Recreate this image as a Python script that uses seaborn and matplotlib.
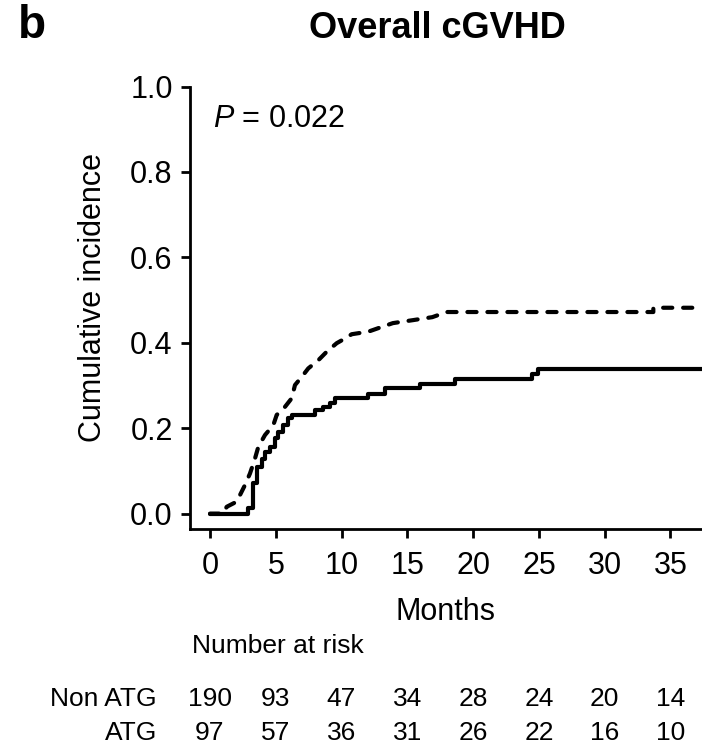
import numpy as np
import pandas as pd
import matplotlib
matplotlib.use("Agg")
import matplotlib.pyplot as plt
import matplotlib.transforms as mtransforms
import seaborn as sns

# ---------------- data ----------------
# Non ATG (dashed): dense small steps that read as a smooth curve -> vertices
non_atg_time = [0, 1.0, 1.27, 2.03, 2.66, 3.04, 3.42, 3.67, 4.18, 4.81, 5.07, 5.70, 6.21, 6.46,
                6.97, 7.47, 8.23, 8.87, 9.63, 10.26, 10.77, 12.03, 13.05, 13.9, 15.43,
                16.9, 18.0, 33.7, 33.7, 38.0]
non_atg_ci = [0, 0, 0.016, 0.028, 0.067, 0.094, 0.129, 0.156, 0.184, 0.207, 0.231, 0.250, 0.270,
              0.301, 0.320, 0.340, 0.359, 0.379, 0.399, 0.410, 0.420, 0.426, 0.437, 0.446,
              0.453, 0.460, 0.472, 0.472, 0.482, 0.482]

# ATG (solid): step function
atg_time = [0, 2.91, 3.29, 3.55, 3.93, 4.18, 4.56, 4.94, 5.19, 5.57, 5.95, 6.21, 7.98, 8.61,
            9.12, 9.50, 12.03, 13.3, 16.0, 18.6, 24.5, 24.9, 38.0]
atg_ci = [0, 0.012, 0.071, 0.110, 0.129, 0.145, 0.156, 0.176, 0.192, 0.207, 0.223, 0.231,
          0.242, 0.250, 0.258, 0.270, 0.281, 0.294, 0.303, 0.315, 0.327, 0.338, 0.338]

groups = ["Non ATG", "ATG"]
risk_times = [0, 5, 10, 15, 20, 25, 30, 35]
risk_non_atg = [190, 93, 47, 34, 28, 24, 20, 14]
risk_atg = [97, 57, 36, 31, 26, 22, 16, 10]

x_ticks = [0, 5, 10, 15, 20, 25, 30, 35]
y_ticks = [0.0, 0.2, 0.4, 0.6, 0.8, 1.0]

df_non = pd.DataFrame({"time": non_atg_time, "ci": non_atg_ci, "group": groups[0]})
df_atg = pd.DataFrame({"time": atg_time, "ci": atg_ci, "group": groups[1]})

# ---------------- style ----------------
sns.set_theme(style="white")
plt.rcParams["font.family"] = ["Liberation Sans", "DejaVu Sans"]
plt.rcParams["mathtext.fontset"] = "custom"
plt.rcParams["mathtext.it"] = "Liberation Sans:italic"
plt.rcParams["mathtext.rm"] = "Liberation Sans"
plt.rcParams["text.color"] = "black"
plt.rcParams["axes.labelcolor"] = "black"
plt.rcParams["xtick.color"] = "black"
plt.rcParams["ytick.color"] = "black"

W, H = 702, 748
fig = plt.figure(figsize=(W / 100, H / 100), dpi=100)
ax = fig.add_axes([190 / W, 1 - 529 / H, (W - 190) / W, (529 - 86.5) / H])


def fp(x, y):
    return x / W, 1 - y / H


sns.lineplot(data=df_non, x="time", y="ci", color="black", linewidth=3,
             estimator=None, sort=False, legend=False, ax=ax)
ax.lines[-1].set_dashes((2.2, 2.6))
ax.lines[-1].set_dash_capstyle("round")
ax.lines[-1].set_solid_joinstyle("round")

sns.lineplot(data=df_atg, x="time", y="ci", color="black", linewidth=3,
             drawstyle="steps-post", estimator=None, sort=False, legend=False, ax=ax)

ax.set_xlim(-1.52, 37.4)
ax.set_ylim(-0.036, 1.0)
ax.set_xticks(x_ticks)
ax.set_yticks(y_ticks)
ax.set_yticklabels([f"{v:.1f}" for v in y_ticks])
ax.set_xlabel("")
ax.set_ylabel("")
for s in ["top", "right"]:
    ax.spines[s].set_visible(False)
for s in ["left", "bottom"]:
    ax.spines[s].set_color("black")
    ax.spines[s].set_linewidth(2)
ax.tick_params(axis="both", which="major", direction="out", length=6.5, width=2,
               color="black", labelsize=22, labelcolor="black",
               bottom=True, left=True)
ax.tick_params(axis="x", pad=9)
ax.tick_params(axis="y", pad=6)

# texts
fig.text(*fp(18, 38), "b", fontsize=33, fontweight="bold", ha="left", va="baseline")
fig.text(*fp(437.5, 38), "Overall cGVHD", fontsize=26, fontweight="bold", ha="center", va="baseline")
fig.text(*fp(213, 127), "$P$ = 0.022", fontsize=22, ha="left", va="baseline")
fig.text(*fp(93, 298), "Cumulative incidence", fontsize=22, rotation=90, ha="center", va="center")
fig.text(*fp(445, 620), "Months", fontsize=22, ha="center", va="baseline")
fig.text(*fp(192, 653), "Number at risk", fontsize=19, ha="left", va="baseline")
fig.text(*fp(157, 706), groups[0], fontsize=19, ha="right", va="baseline")
fig.text(*fp(157, 740), groups[1], fontsize=19, ha="right", va="baseline")

trans = mtransforms.blended_transform_factory(ax.transData, fig.transFigure)
for t, a, b in zip(risk_times, risk_non_atg, risk_atg):
    ax.text(t, 1 - 706 / H, str(a), fontsize=19, ha="center", va="baseline",
            transform=trans, clip_on=False)
    ax.text(t, 1 - 740 / H, str(b), fontsize=19, ha="center", va="baseline",
            transform=trans, clip_on=False)

fig.savefig("out.png", dpi=100, facecolor="white")
